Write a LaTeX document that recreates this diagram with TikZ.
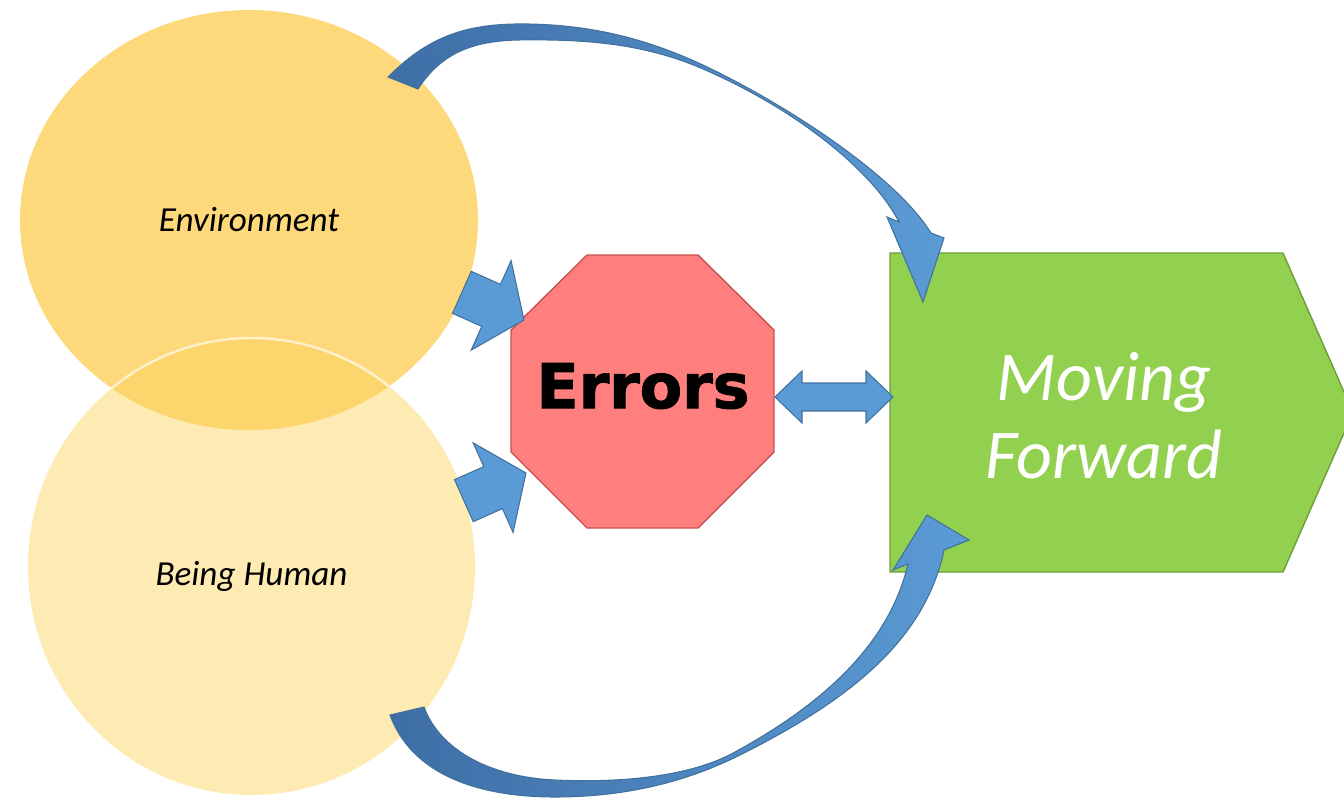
\documentclass[tikz,border=0pt]{standalone}
\usepackage{fontspec}
\setmainfont{Carlito}
\newfontfamily\errfont{DejaVu Sans}[BoldFeatures={FakeBold=1.6}]
\usetikzlibrary{calc,shapes.geometric}

\definecolor{envyellow}{HTML}{FDD97C}
\definecolor{humanyellow}{HTML}{FEEAB3}
\definecolor{overlapyellow}{HTML}{FCD56C}
\definecolor{stopred}{HTML}{FF7F7F}
\definecolor{stopredline}{HTML}{C9514F}
\definecolor{fwdgreen}{HTML}{92D050}
\definecolor{fwdgreenline}{HTML}{6E9E3C}
\definecolor{arrowblue}{HTML}{5B9BD5}
\definecolor{arrowbluedark}{HTML}{41719C}
\definecolor{curvedark}{HTML}{3E6EA6}

\tikzset{
	blockarrow/.style={fill=arrowblue, draw=arrowbluedark, line width=0.3pt},
	curvearrow/.style={left color=curvedark, right color=arrowblue, draw=arrowbluedark, line width=0.3pt},
	bubble/.style={ellipse, inner sep=0pt, font=\fontsize{10}{12}\selectfont\itshape},
}
\def\blockarrow(#1)(#2){\draw[blockarrow, shift={(#1)}, rotate=#2] (-68,-23) -- (-36,-23) -- (-36,-49) -- (0,0) -- (-36,49) -- (-36,23) -- (-68,23) -- cycle;}

\begin{document}
\begin{tikzpicture}[x=0.1mm, y=-0.1mm]
		%%%%% START %%%%%
		\useasboundingbox (0,0) rectangle (1344,799);
		\clip (0,0) rectangle (1344,799);
		
		% the two bubbles
		\node[bubble, fill=humanyellow, minimum width=44.7mm, minimum height=45.7mm] (human) at (251.5, 566.5) {};
		\node[bubble, fill=envyellow, minimum width=45.8mm, minimum height=42mm] (env) at (249, 220) {};
		\begin{scope}
			\clip (env.center) ellipse [x radius=229, y radius=210];
			\fill[overlapyellow] (human.center) ellipse [x radius=223.5, y radius=228.5];
			\draw[humanyellow!70!white, line width=0.7pt] (human.center) ellipse [x radius=223.5, y radius=228.5];
		\end{scope}
		\node[bubble] at (env.center) {Environment};
		\node[bubble] at ([yshift=-1mm]human.center) {Being Human};
		
		% stop sign
		\draw[fill=stopred, draw=stopredline, line width=0.4pt] (587, 255) -- (698, 255) -- (774, 330) -- (774, 452)
			-- (698, 528) -- (587, 528) -- (511, 452) -- (511, 330) -- cycle;
		\node[font=\errfont\bfseries\fontsize{17.6}{20}\selectfont] (errors) at (643, 386) {Errors};
		
		% moving forward
		\draw[fill=fwdgreen, draw=fwdgreenline, line width=0.4pt] (890, 253) -- (1283, 253) -- (1353, 412.5) -- (1283, 572) -- (890, 572) -- cycle;
		\node[text=white, align=center, font=\fontsize{19.9}{22.2}\selectfont\itshape] (fwd) at (1104, 416) {Moving\\Forward};
		
		% arrows into the stop sign
		\blockarrow(524, 320)(-24)
		\blockarrow(526, 473)(24)
		
		% both ways
		\coordinate (dl) at (775, 397);
		\coordinate (dr) at (893, 397);
		\draw[blockarrow] (dl) -- ($(dl)+(27,-26)$) -- ($(dl)+(27,-14)$) -- ($(dr)+(-27,-14)$) -- ($(dr)+(-27,-26)$) -- (dr)
			-- ($(dr)+(-27,26)$) -- ($(dr)+(-27,14)$) -- ($(dl)+(27,14)$) -- ($(dl)+(27,26)$) -- cycle;
		
		% curved arrow, top
		\draw[curvearrow] (388, 77) .. controls (425, 40) and (460, 25) .. (515, 24)
			.. controls (590, 23) and (650, 40) .. (705, 66)
			.. controls (785, 104) and (895, 175) .. (931, 233)
			-- (944, 238) -- (923, 302) -- (887, 217) -- (899, 222)
			.. controls (875, 175) and (805, 115) .. (712, 73)
			.. controls (650, 44) and (590, 39) .. (518, 40)
			.. controls (470, 41) and (440, 55) .. (418, 89) -- cycle;
		
		% curved arrow, bottom
		\draw[curvearrow] (390, 715) .. controls (410, 770) and (470, 797) .. (555, 797)
			.. controls (640, 797) and (700, 775) .. (740, 755)
			.. controls (850, 700) and (925, 640) .. (944, 550)
			-- (969, 540) -- (927, 515) -- (893, 570) -- (908, 564)
			.. controls (890, 640) and (830, 700) .. (735, 752)
			.. controls (690, 777) and (620, 783) .. (555, 780)
			.. controls (490, 777) and (440, 750) .. (424, 707) -- cycle;
		
		%%%%% END %%%%%
	\end{tikzpicture}
\end{document}
